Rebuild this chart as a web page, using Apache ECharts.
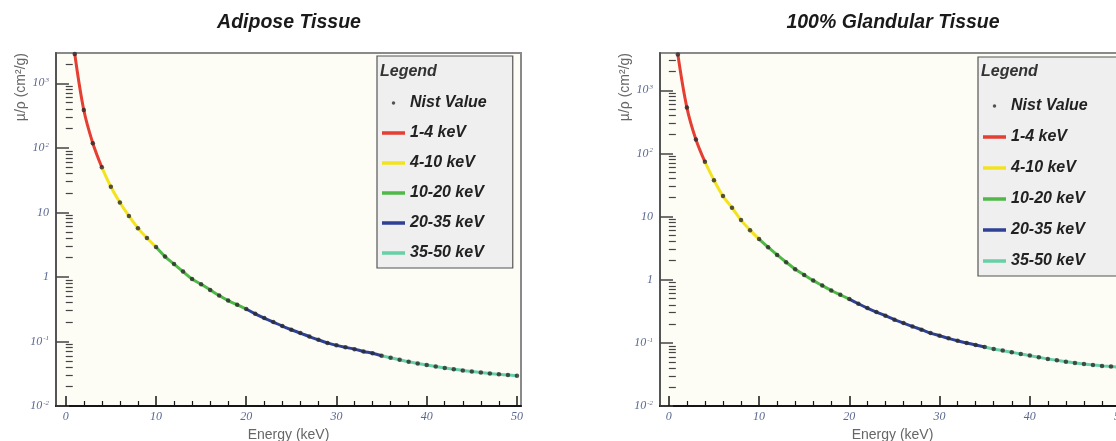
<!DOCTYPE html>
<html>
<head>
<meta charset="utf-8">
<script src="https://cdn.jsdelivr.net/npm/echarts@6/dist/echarts.min.js"></script>
<style>
html,body{margin:0;padding:0;background:#fff;}
#c{width:1116px;height:441px;}
</style>
</head>
<body>
<div id="c"></div>
<script>
// ---------------- data ----------------
const panelTitles = ['Adipose Tissue', '100% Glandular Tissue'];
const energy = [1,2,3,4,5,6,7,8,9,10,11,12,13,14,15,16,17,18,19,20,21,22,23,24,25,26,27,28,29,30,31,32,33,34,35,36,37,38,39,40,41,42,43,44,45,46,47,48,49,50];
const adipose = [2850, 386, 118, 50, 25, 14.2, 8.8, 5.7, 4.0, 2.9,
  2.07, 1.58, 1.21, 0.93, 0.77, 0.63, 0.515, 0.43, 0.37, 0.318,
  0.268, 0.23, 0.20, 0.173, 0.152, 0.135, 0.119, 0.106, 0.095, 0.087,
  0.081, 0.076, 0.070, 0.0656, 0.060, 0.056, 0.052, 0.0485, 0.0456, 0.0431,
  0.0409, 0.0389, 0.0371, 0.0356, 0.0342, 0.0330, 0.0319, 0.0310, 0.0302, 0.0294];
const glandular = [3700, 533, 166, 73.6, 37.8, 21.1, 13.8, 8.8, 6.1, 4.4,
  3.27, 2.47, 1.90, 1.47, 1.19, 0.97, 0.81, 0.675, 0.577, 0.493,
  0.416, 0.356, 0.308, 0.269, 0.233, 0.206, 0.182, 0.162, 0.143, 0.130,
  0.118, 0.108, 0.0996, 0.0926, 0.0861, 0.0801, 0.0754, 0.0708, 0.0668, 0.0628,
  0.0590, 0.0557, 0.0529, 0.0504, 0.0481, 0.0464, 0.0448, 0.0432, 0.0421, 0.0410];
const rangeNames = ['1-4 keV', '4-10 keV', '10-20 keV', '20-35 keV', '35-50 keV'];
const rangeBounds = [[1,4],[4,10],[10,20],[20,35],[35,50]];
const rangeColors = ['#e53e33', '#f3e31e', '#4fb847', '#2e4194', '#66d0a6'];
const nistName = 'Nist Value';
const xMajorTicks = [0,10,20,30,40,50];
const xMinorTicks = [2,4,6,8,12,14,16,18,22,24,26,28,32,34,36,38,42,44,46,48];
const yMajorTicks = [0.01, 0.1, 1, 10, 100, 1000];
const yMin = 0.01;
const yMaxes = [2950, 3900];
const xRanges = [[-1.08, 50.45], [-0.98, 50.55]];

// ---------------- layout ----------------
const grids = [
  {left: 56, top: 53, width: 465, height: 353},
  {left: 660, top: 53, width: 465, height: 353}
];
const labelColor = '#5a6890';
const serif = 'Liberation Serif';
const sans = 'Liberation Sans';

function yMinorTicks(max) {
  const out = [];
  for (let e = -2; e <= 3; e++) {
    for (let m = 2; m <= 9; m++) {
      const v = +(m * Math.pow(10, e)).toPrecision(6);
      if (v < max) out.push(v);
    }
  }
  return out;
}

const xAxis = [], yAxis = [], series = [], legend = [];
const seriesSets = [adipose, glandular];

for (let g = 0; g < 2; g++) {
  const [xmin, xmax] = xRanges[g];
  xAxis.push({
    gridIndex: g, type: 'value', min: xmin, max: xmax, position: 'bottom',
    axisLine: {show: true, onZero: false, lineStyle: {color: '#151515', width: 2}},
    axisTick: {show: true, inside: true, length: 10, customValues: xMajorTicks, lineStyle: {color: '#151515', width: 1.5}},
    axisLabel: {customValues: xMajorTicks, fontFamily: serif, fontStyle: 'italic', fontSize: 12, color: labelColor, margin: 5},
    splitLine: {show: false},
    name: 'Energy (keV)', nameLocation: 'middle', nameGap: 22,
    nameTextStyle: {fontFamily: sans, fontSize: 14, color: '#666'}
  });
  xAxis.push({
    gridIndex: g, type: 'value', min: xmin, max: xmax, position: 'bottom',
    axisLine: {show: false},
    axisTick: {show: true, inside: true, length: 5, customValues: xMinorTicks, lineStyle: {color: '#151515', width: 1.2}},
    axisLabel: {show: false}, splitLine: {show: false}
  });
  yAxis.push({
    gridIndex: g, type: 'log', logBase: 10, min: yMin, max: yMaxes[g], position: 'left',
    axisLine: {show: true, onZero: false, lineStyle: {color: '#555', width: 2}},
    axisTick: {show: true, inside: true, length: 13, customValues: yMajorTicks, lineStyle: {color: '#444', width: 1.5}},
    axisLabel: {
      customValues: yMajorTicks, fontFamily: serif, fontStyle: 'italic', fontSize: 12, color: labelColor, margin: 7,
      formatter: function (v) {
        const e = Math.round(Math.log10(v));
        if (e === 0) return '1';
        if (e === 1) return '10';
        return '10{s|' + e + '}';
      },
      rich: {s: {fontFamily: serif, fontStyle: 'italic', fontSize: 7, color: labelColor, verticalAlign: 'top', padding: [0, 0, 6, 1]}}
    },
    splitLine: {show: false}
  });
  yAxis.push({
    gridIndex: g, type: 'log', logBase: 10, min: yMin, max: yMaxes[g], position: 'left',
    axisLine: {show: false},
    axisTick: {show: true, inside: true, length: 7, customValues: yMinorTicks(yMaxes[g]), lineStyle: {color: '#444', width: 1.2}},
    axisLabel: {show: false}, splitLine: {show: false}
  });

  const vals = seriesSets[g];
  for (let r = 0; r < rangeNames.length; r++) {
    const [a, b] = rangeBounds[r];
    const pts = [];
    for (let i = 0; i < energy.length; i++) {
      if (energy[i] >= a && energy[i] <= b) pts.push([energy[i], vals[i]]);
    }
    series.push({
      name: rangeNames[r], type: 'line', xAxisIndex: 2 * g, yAxisIndex: 2 * g,
      data: pts, smooth: 0.35, symbol: 'none', color: rangeColors[r],
      lineStyle: {width: 3, color: rangeColors[r]}, z: 3, silent: true
    });
  }
  series.push({
    name: nistName, type: 'scatter', xAxisIndex: 2 * g, yAxisIndex: 2 * g,
    data: energy.map((e, i) => [e, vals[i]]), symbol: 'circle', symbolSize: 4.5,
    itemStyle: {color: '#2a2a2a'}, z: 5, silent: true
  });
}

const legendText = {fontFamily: sans, fontSize: 16, fontWeight: 'bold', fontStyle: 'italic', color: '#222'};
const legendData = [{name: nistName, icon: 'circle'}].concat(rangeNames.map(n => ({name: n, icon: 'rect'})));
legend.push({
  left: 377, top: 56, orient: 'vertical', data: legendData,
  itemWidth: 23, itemHeight: 3.5, itemGap: 14, padding: [39, 26, 7, 5],
  backgroundColor: '#efefef', borderColor: '#555', borderWidth: 1.2,
  textStyle: legendText, selectedMode: false
});
legend.push({
  left: 978, top: 57, orient: 'vertical', data: legendData,
  itemWidth: 23, itemHeight: 3.5, itemGap: 15, padding: [41, 40, 7, 5],
  backgroundColor: '#efefef', borderColor: '#555', borderWidth: 1.2,
  textStyle: legendText, selectedMode: false
});

const graphic = [
  {type: 'text', x: 289, y: 23, style: {text: panelTitles[0], align: 'center', verticalAlign: 'middle', font: 'italic bold 19.5px "Liberation Sans"', fill: '#1a1a1a'}},
  {type: 'text', x: 893, y: 23, style: {text: panelTitles[1], align: 'center', verticalAlign: 'middle', font: 'italic bold 19.5px "Liberation Sans"', fill: '#1a1a1a'}},
  {type: 'text', x: 380, y: 72, z: 100, style: {text: 'Legend', align: 'left', verticalAlign: 'middle', font: 'italic bold 16px "Liberation Sans"', fill: '#333'}},
  {type: 'text', x: 981, y: 72, z: 100, style: {text: 'Legend', align: 'left', verticalAlign: 'middle', font: 'italic bold 16px "Liberation Sans"', fill: '#333'}},
  {type: 'text', x: 21, y: 53, rotation: Math.PI / 2, style: {text: 'µ/ρ (cm²/g)', align: 'right', verticalAlign: 'middle', font: '14px "Liberation Sans"', fill: '#666'}},
  {type: 'text', x: 625, y: 53, rotation: Math.PI / 2, style: {text: 'µ/ρ (cm²/g)', align: 'right', verticalAlign: 'middle', font: '14px "Liberation Sans"', fill: '#666'}}
];

const option = {
  backgroundColor: '#ffffff',
  animation: false,
  grid: grids.map(g => Object.assign({show: true, backgroundColor: '#fdfdf6', borderColor: '#8a8a8a', borderWidth: 2, containLabel: false, outerBoundsMode: 'none'}, g)),
  xAxis: xAxis,
  yAxis: yAxis,
  legend: legend,
  series: series,
  graphic: graphic
};
const chart = echarts.init(document.getElementById('c'), null, {renderer: 'canvas'});
chart.setOption(option);
</script>
</body>
</html>
